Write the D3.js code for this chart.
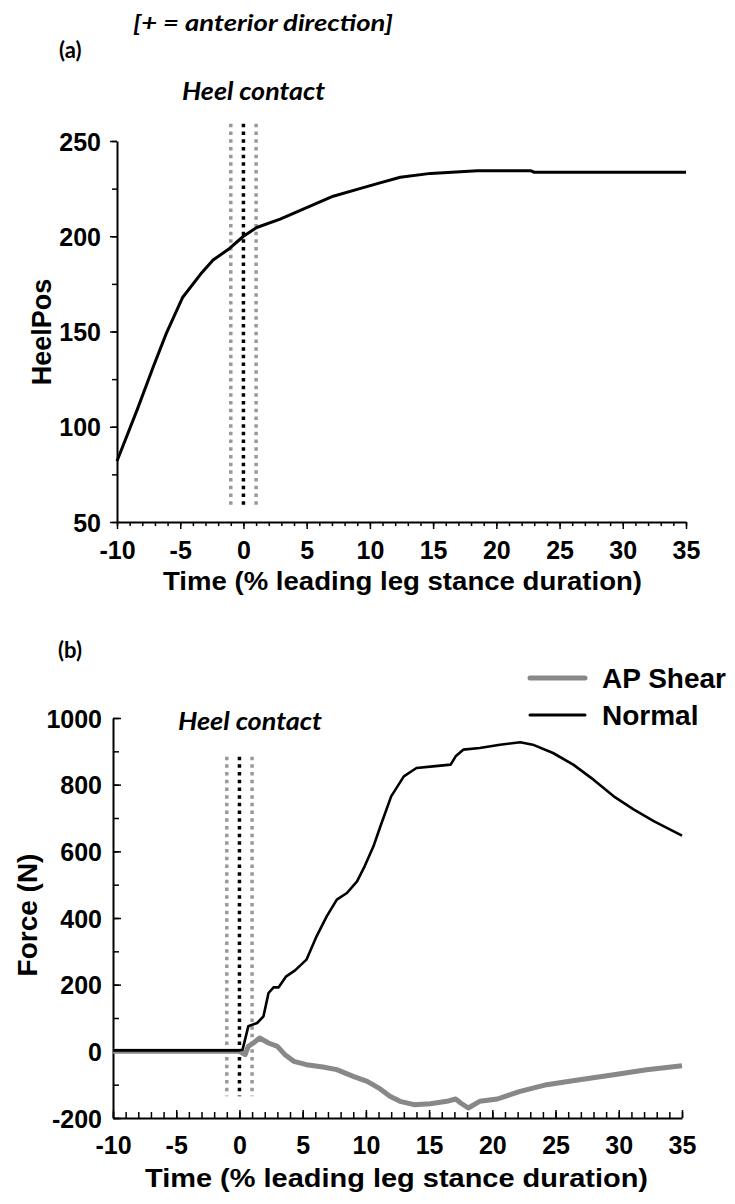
<!doctype html>
<html lang="en">
<head>
<meta charset="utf-8">
<title>Heel position and ground reaction force</title>
<script src="https://cdn.jsdelivr.net/npm/d3@7"></script>
<style>
  body { margin: 0; background: #fff; }
  svg text { font-family: "Liberation Sans", Arial, sans-serif; font-weight: bold; fill: #000; }
  svg .note { font-family: Lato, "Open Sans", sans-serif; }
  .domain { stroke: #000; stroke-width: 2; }
  .tick line { stroke: #000; stroke-width: 1.5; }
</style>
</head>
<body>
<div id="chart"></div>
<script>
// panel (a): heel position
var heelT   = [-10, -8.4, -7.1, -6.1, -4.8, -3.4, -2.4, -1.1, 0, 1.05, 2.9, 5.0, 7.1, 9.2, 10.8, 12.4, 14.8, 18.5, 22.7, 23.0, 35];
var heelPos = [82, 109, 132, 149, 168, 180, 187.5, 193.6, 200, 204.6, 209, 215, 221, 225, 228, 231, 233, 234.4, 234.4, 233.6, 233.6];

// panel (b): forces
var normT = [-10, -5, 0, 0.25, 0.7, 1.4, 1.9, 2.3, 2.7, 3.1, 3.7, 4.4, 5.3, 6.1, 6.9, 7.7, 8.5, 9.3, 9.9, 10.6, 11.1, 12.0, 13.0, 14.0, 15.3, 16.7, 17.1, 17.7, 19.0, 20.6, 22.2, 23.2, 24.8, 26.4, 28.0, 29.6, 31.2, 32.8, 35];
var normF = [3, 3, 3, 5, 75, 85, 105, 175, 192, 192, 225, 243, 275, 345, 405, 455, 475, 510, 555, 615, 670, 765, 825, 850, 855, 860, 885, 905, 910, 920, 927, 920, 895, 860, 815, 765, 725, 690, 647];
var shearT = [-10, -5, 0, 0.45, 0.7, 1.1, 1.6, 2.3, 3.0, 3.6, 4.3, 5.3, 6.6, 7.7, 9.0, 10.1, 11.1, 11.9, 12.7, 13.8, 15.1, 16.4, 17.1, 17.5, 18.1, 19.0, 20.4, 22.2, 24.3, 26.9, 29.6, 32.2, 35];
var shearF = [0, 0, 0, -10, 15, 25, 40, 25, 15, -10, -30, -40, -47, -55, -75, -90, -112, -135, -150, -160, -157, -150, -143, -155, -170, -150, -143, -120, -100, -85, -70, -55, -43];

var xTicks = [-10, -5, 0, 5, 10, 15, 20, 25, 30, 35];
var heelTicks = [50, 100, 150, 200, 250];
var forceTicks = [-200, 0, 200, 400, 600, 800, 1000];
var contactT = [-1, 0, 1];
var legendNames = ["AP Shear", "Normal"];

var plain = function(d){ return String(d); };   // keep ascii minus, no thousands comma

var svg = d3.select("#chart").append("svg")
  .attr("width", 735)
  .attr("height", 1204);

// header texts
svg.append("text").attr("class", "note")
  .attr("x", 133).attr("y", 31)
  .attr("font-size", 23).attr("font-style", "italic")
  .attr("textLength", 260).attr("lengthAdjust", "spacingAndGlyphs")
  .text("[+ = anterior direction]");
svg.append("text").attr("class", "note")
  .attr("x", 59).attr("y", 58).attr("font-size", 22)
  .text("(a)");

// ---------- panel (a) ----------
var xa = d3.scaleLinear().domain([-10, 35]).range([117, 686]);
var ya = d3.scaleLinear().domain([50, 250]).range([522, 141]);

var ga = svg.append("g");
ga.append("g").attr("transform", "translate(0,522)")
  .call(d3.axisBottom(xa).tickValues(d3.range(-10, 36, 1)).tickSize(4).tickFormat(""))
  .call(function(g){ g.select(".domain").remove(); });
ga.append("g").attr("transform", "translate(117,0)")
  .call(d3.axisLeft(ya).tickValues(d3.range(50, 251, 25)).tickSize(5).tickFormat(""))
  .call(function(g){ g.select(".domain").remove(); });
ga.append("g").attr("transform", "translate(0,522)")
  .call(d3.axisBottom(xa).tickValues(xTicks).tickFormat(plain).tickSize(7).tickSizeOuter(0).tickPadding(12))
  .selectAll("text").attr("font-size", 25).attr("font-family", null);
ga.append("g").attr("transform", "translate(117,0)")
  .call(d3.axisLeft(ya).tickValues(heelTicks).tickFormat(plain).tickSize(7).tickSizeOuter(0).tickPadding(9))
  .selectAll("text").attr("font-size", 25).attr("font-family", null).attr("dy", "0.36em");

ga.selectAll(".contact").data(contactT).enter().append("line")
  .attr("x1", function(d){ return xa(d); }).attr("x2", function(d){ return xa(d); })
  .attr("y1", ya(259)).attr("y2", ya(57))
  .attr("stroke", function(d){ return d === 0 ? "#000" : "#999"; })
  .attr("stroke-width", 3.5).attr("stroke-dasharray", "3.5 4.2");

ga.append("path")
  .datum(d3.zip(heelT, heelPos))
  .attr("fill", "none").attr("stroke", "#000").attr("stroke-width", 3)
  .attr("stroke-linejoin", "round")
  .attr("d", d3.line().x(function(d){ return xa(d[0]); }).y(function(d){ return ya(d[1]); }));

ga.append("text").attr("class", "note")
  .attr("x", 182).attr("y", 100).attr("font-size", 24).attr("font-style", "italic")
  .attr("textLength", 143).attr("lengthAdjust", "spacingAndGlyphs")
  .text("Heel contact");
ga.append("text")
  .attr("transform", "translate(51,332) rotate(-90)")
  .attr("text-anchor", "middle").attr("font-size", 27)
  .text("HeelPos");
ga.append("text")
  .attr("x", 163).attr("y", 590).attr("font-size", 25)
  .attr("textLength", 479).attr("lengthAdjust", "spacingAndGlyphs")
  .text("Time (% leading leg stance duration)");

// ---------- panel (b) ----------
var xb = d3.scaleLinear().domain([-10, 35]).range([113, 682]);
var yb = d3.scaleLinear().domain([-200, 1000]).range([1118, 718]);

var gb = svg.append("g");
svg.append("text").attr("class", "note")
  .attr("x", 58).attr("y", 658).attr("font-size", 22)
  .text("(b)");

gb.append("g").attr("transform", "translate(0,1118)")
  .call(d3.axisBottom(xb).tickValues(d3.range(-10, 36, 1)).tickSize(-6).tickFormat(""))
  .call(function(g){ g.select(".domain").remove(); });
gb.append("g").attr("transform", "translate(113,0)")
  .call(d3.axisLeft(yb).tickValues(d3.range(-200, 1001, 100)).tickSize(-6).tickFormat(""))
  .call(function(g){ g.select(".domain").remove(); });
gb.append("g").attr("transform", "translate(0,1118)")
  .call(d3.axisBottom(xb).tickValues(xTicks).tickFormat(plain).tickSize(-8).tickSizeOuter(0).tickPadding(18))
  .selectAll("text").attr("font-size", 25).attr("font-family", null);
gb.append("g").attr("transform", "translate(113,0)")
  .call(d3.axisLeft(yb).tickValues(forceTicks).tickFormat(plain).tickSize(-8).tickSizeOuter(0).tickPadding(11))
  .selectAll("text").attr("font-size", 25).attr("font-family", null).attr("dy", "0.36em");

gb.selectAll(".contact").data(contactT).enter().append("line")
  .attr("x1", function(d){ return xb(d); }).attr("x2", function(d){ return xb(d); })
  .attr("y1", yb(884)).attr("y2", yb(-135))
  .attr("stroke", function(d){ return d === 0 ? "#000" : "#999"; })
  .attr("stroke-width", 3.5).attr("stroke-dasharray", "3.5 4.2");

var lineB = d3.line().x(function(d){ return xb(d[0]); }).y(function(d){ return yb(d[1]); });
gb.append("path")
  .datum(d3.zip(shearT, shearF))
  .attr("fill", "none").attr("stroke", "#888").attr("stroke-width", 5)
  .attr("stroke-linejoin", "round")
  .attr("d", lineB);
gb.append("path")
  .datum(d3.zip(normT, normF))
  .attr("fill", "none").attr("stroke", "#000").attr("stroke-width", 2.6)
  .attr("stroke-linejoin", "round")
  .attr("d", lineB);

gb.append("text").attr("class", "note")
  .attr("x", 178).attr("y", 730).attr("font-size", 24).attr("font-style", "italic")
  .attr("textLength", 144).attr("lengthAdjust", "spacingAndGlyphs")
  .text("Heel contact");
gb.append("text")
  .attr("transform", "translate(37,915) rotate(-90)")
  .attr("text-anchor", "middle").attr("font-size", 28)
  .text("Force (N)");
gb.append("text")
  .attr("x", 145).attr("y", 1187).attr("font-size", 26)
  .attr("textLength", 503).attr("lengthAdjust", "spacingAndGlyphs")
  .text("Time (% leading leg stance duration)");

// legend
var leg = gb.selectAll(".leg").data(legendNames).enter().append("g")
  .attr("transform", function(d, i){ return "translate(530," + (678 + i * 37) + ")"; });
leg.append("line")
  .attr("x1", 0).attr("x2", 55)
  .attr("stroke", function(d, i){ return i === 0 ? "#888" : "#000"; })
  .attr("stroke-width", function(d, i){ return i === 0 ? 5 : 3; })
  .attr("stroke-linecap", "round");
leg.append("text")
  .attr("x", 72).attr("y", 10).attr("font-size", 28)
  .text(function(d){ return d; });
</script>
</body>
</html>
